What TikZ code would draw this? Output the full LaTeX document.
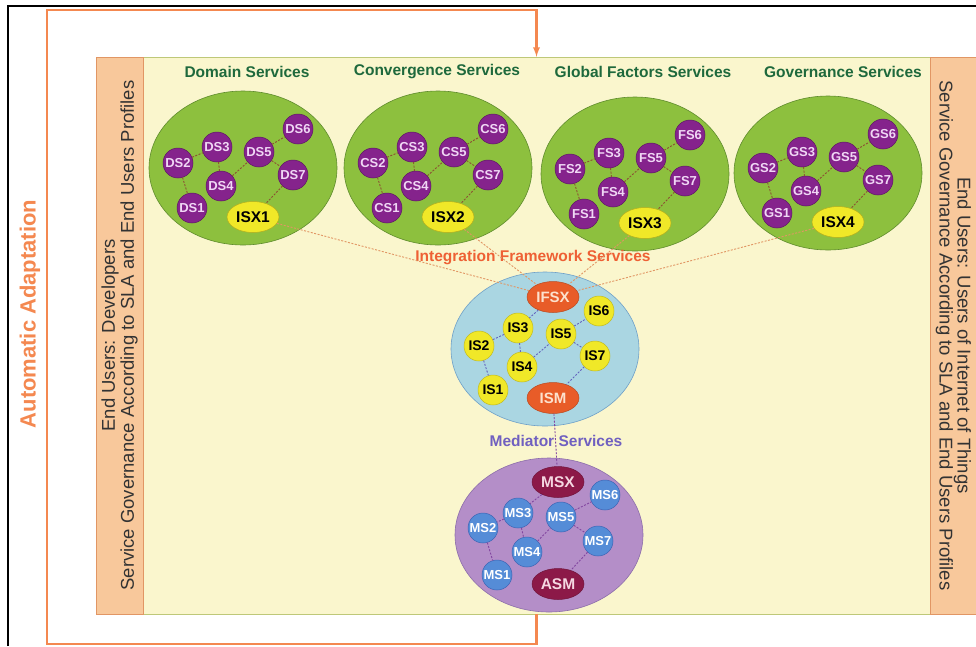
\documentclass[tikz,border=0pt]{standalone}
\usepackage{fontspec}
\setmainfont{Liberation Sans}
\usepackage{tikz}
\usetikzlibrary{arrows,shapes}
\usepackage{xcolor}

\definecolor{panelfill}{RGB}{250,246,205}
\definecolor{paneldraw}{RGB}{190,200,120}
\definecolor{stripfill}{RGB}{248,200,155}
\definecolor{stripdraw}{RGB}{225,150,100}
\definecolor{leafgreen}{RGB}{141,192,62}
\definecolor{leafdraw}{RGB}{95,140,45}
\definecolor{purp}{RGB}{133,35,140}
\definecolor{purptext}{RGB}{240,215,245}
\definecolor{isxyel}{RGB}{240,232,40}
\definecolor{skyblue}{RGB}{170,214,226}
\definecolor{skydraw}{RGB}{110,160,200}
\definecolor{redorange}{RGB}{232,92,40}
\definecolor{rotext}{RGB}{252,225,205}
\definecolor{lav}{RGB}{180,142,200}
\definecolor{lavdraw}{RGB}{140,110,170}
\definecolor{msblue}{RGB}{85,140,215}
\definecolor{msdraw}{RGB}{60,100,180}
\definecolor{maroon}{RGB}{140,25,72}
\definecolor{marontext}{RGB}{245,215,225}
\definecolor{titlegreen}{RGB}{30,105,60}
\definecolor{intred}{RGB}{238,96,52}
\definecolor{medpurple}{RGB}{112,96,192}
\definecolor{adapt}{RGB}{244,136,80}
\definecolor{linkbrown}{RGB}{140,80,50}
\definecolor{linkblue}{RGB}{100,100,190}
\definecolor{linkpurple}{RGB}{130,70,160}
\definecolor{crosslink}{RGB}{225,150,100}

\tikzset{
  svc/.style={circle, minimum size=30pt, inner sep=0pt, line width=0.5pt},
  dsvc/.style={svc, fill=purp, draw=purp!70!black, text=purptext, font=\bfseries\fontsize{13}{13}\selectfont},
  isvc/.style={svc, fill=isxyel, draw=isxyel!80!black, text=black, font=\bfseries\fontsize{14}{14}\selectfont},
  msvc/.style={svc, fill=msblue, draw=msdraw, text=white, font=\bfseries\fontsize{13}{13}\selectfont},
  xnode/.style={ellipse, minimum width=52pt, minimum height=31pt, inner sep=0pt, line width=0.5pt},
  isx/.style={xnode, fill=isxyel, draw=isxyel!75!black, text=black, font=\bfseries\fontsize{15.5}{15.5}\selectfont},
  ifx/.style={xnode, fill=redorange, draw=redorange!80!black, text=rotext, font=\bfseries\fontsize{15}{15}\selectfont},
  msx/.style={xnode, fill=maroon, draw=maroon!80!black, text=marontext, font=\bfseries\fontsize{15.5}{15.5}\selectfont},
  cluster/.style={ellipse, minimum width=188pt, minimum height=154pt, line width=0.6pt},
  link/.style={dash pattern=on 2pt off 1.5pt, line width=0.9pt},
  heading/.style={font=\bfseries\fontsize{15.5}{15.5}\selectfont}
}

\begin{document}
\begin{tikzpicture}[x=1pt,y=-1pt]
        \useasboundingbox (0,0) rectangle (976,646);
        % frame
        \draw[line width=2pt] (8,646) -- (8,6) -- (976,6);
        % panel and side strips
        \node[rectangle, fill=panelfill, draw=paneldraw, minimum width=787pt, minimum height=557pt] (panel) at (536.5,335.5) {};
        \node[rectangle, fill=stripfill, draw=stripdraw, minimum width=47pt, minimum height=557pt] (lstrip) at (119.5,335.5) {};
        \node[rectangle, fill=stripfill, draw=stripdraw, minimum width=47pt, minimum height=557pt] (rstrip) at (953.5,335.5) {};
        \node[rotate=90, align=center, text=black!80, font=\fontsize{18.5}{19}\selectfont] (ltext) at (lstrip) {End Users: Developers\\Service Governance According to SLA and End Users Profiles};
        \node[rotate=-90, align=center, text=black!80, font=\fontsize{18.5}{18}\selectfont] (rtext) at (rstrip) {End Users: Users of Internet of Things\\Service Governance According to SLA and End Users Profiles};
        % adaptation loop
        \node[rotate=90, text=adapt, font=\bfseries\fontsize{22}{22}\selectfont] (adtext) at (30,314) {Automatic Adaptation};
        \draw[adapt, line width=2.2pt, -latex] (panel.south) -- ++(0,30) -| (47,10) -| (panel.north);

        % service clusters
        \foreach \cx/\cy/\p/\k/\tx/\title in {243/168/DS/1/247/Domain Services, 438/168/CS/2/437/Convergence Services, 635/174/FS/3/643/Global Factors Services, 828/173/GS/4/843/Governance Services}
        {
        \node[cluster, fill=leafgreen, draw=leafdraw] (cl\k) at (\cx,\cy) {};
        \node[heading, text=titlegreen] (title\k) at (\tx,72) {\title};
        \foreach \n/\dx/\dy in {1/-51/40, 2/-65/-5, 3/-26/-21, 4/-22/18, 5/16/-16, 6/55/-39, 7/50/7}
        \node[dsvc] (\p\n) at (\cx+\dx,\cy+\dy) {\p\n};
        \node[isx] (ISX\k) at (\cx+10,\cy+49) {ISX\k};
        \draw[link, linkbrown] (\p2) -- (\p3) (\p2) -- (\p1) (\p3) -- (\p4) (\p4) -- (\p5) (\p5) -- (\p6) (\p5) -- (\p7) (\p7) -- (ISX\k);
        }

        % integration framework
        \node[cluster, fill=skyblue, draw=skydraw] (icl) at (545,349) {};
        \node[heading, text=intred] (ititle) at (533,258) {Integration Framework Services};
        \node[ifx] (IFSX) at (553,297) {IFSX};
        \foreach \n/\dx/\dy in {1/-52/41, 2/-66/-3, 3/-27/-21, 4/-23/18, 5/16/-15, 6/54/-38, 7/50/7}
        \node[isvc] (IS\n) at (545+\dx,349+\dy) {IS\n};
        \node[ifx] (ISM) at (553,398) {ISM};
        \draw[link, linkblue] (IFSX) -- (IS3) (IS3) -- (IS2) (IS2) -- (IS1) (IS3) -- (IS4) (IS4) -- (IS5) (IS5) -- (IS6) (IS5) -- (IS7) (IS7) -- (ISM);
        \foreach \k in {1,2,3,4}
        \draw[link, crosslink] (ISX\k) -- (IFSX);

        % mediator
        \node[cluster, fill=lav, draw=lavdraw] (mcl) at (549,535) {};
        \node[heading, text=medpurple] (mtitle) at (556,441) {Mediator Services};
        \node[msx] (MSX) at (558,482) {MSX};
        \foreach \n/\dx/\dy in {1/-52/40, 2/-66/-7, 3/-31/-22, 4/-22/17, 5/12/-18, 6/56/-40, 7/49/6}
        \node[msvc] (MS\n) at (549+\dx,535+\dy) {MS\n};
        \node[msx] (ASM) at (558,584) {ASM};
        \draw[link, linkpurple] (MSX) -- (MS3) (MS3) -- (MS2) (MS2) -- (MS1) (MS3) -- (MS4) (MS4) -- (MS5) (MS5) -- (MS6) (MS5) -- (MS7) (MS7) -- (ASM);
        \draw[link, linkpurple] (ISM) -- (MSX);
    \end{tikzpicture}
\end{document}
